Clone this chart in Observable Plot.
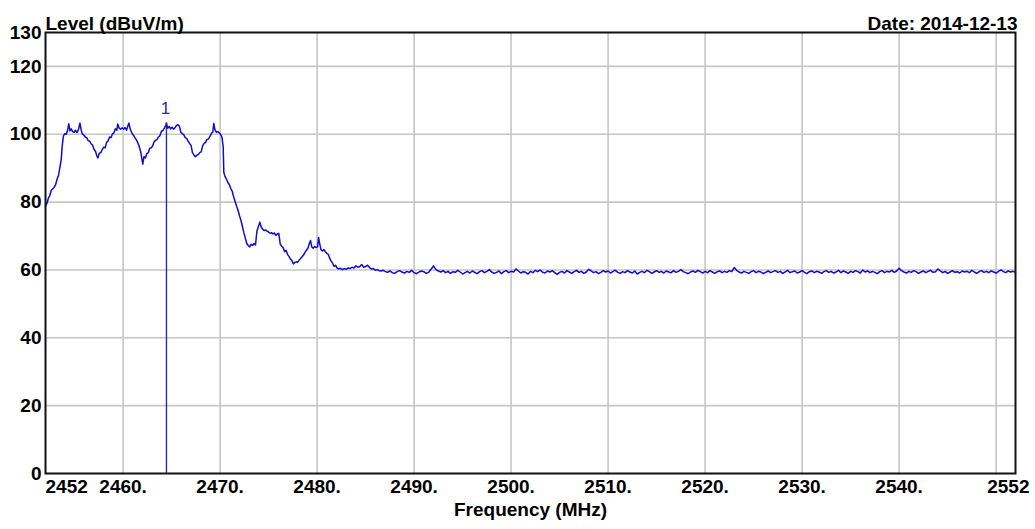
<!DOCTYPE html>
<html>
<head>
<meta charset="utf-8">
<script src="https://cdn.jsdelivr.net/npm/d3@7"></script>
<script src="https://cdn.jsdelivr.net/npm/@observablehq/plot@0.6"></script>
<style>
  html, body { margin: 0; padding: 0; background: #fff; }
  #chart svg { display: block; }
</style>
</head>
<body>
<div id="chart"></div>
<script>
// ---- Data ----
// Signal region: frequency (MHz)
const bandFreq = [
  2452.00, 2452.15, 2452.30, 2452.45, 2452.60, 2452.75, 2452.90, 2453.05, 2453.20, 2453.35,
  2453.50, 2453.62, 2453.72, 2453.85, 2454.00, 2454.15, 2454.30, 2454.40, 2454.52, 2454.65,
  2454.80, 2454.95, 2455.10, 2455.25, 2455.40, 2455.55, 2455.70, 2455.80, 2455.95, 2456.10,
  2456.25, 2456.40, 2456.55, 2456.70, 2456.85, 2457.00, 2457.15, 2457.30, 2457.40, 2457.55,
  2457.70, 2457.85, 2458.00, 2458.15, 2458.30, 2458.45, 2458.60, 2458.75, 2458.90, 2459.05,
  2459.20, 2459.35, 2459.45, 2459.60, 2459.75, 2459.90, 2460.05, 2460.20, 2460.35, 2460.50,
  2460.60, 2460.75, 2460.90, 2461.05, 2461.20, 2461.35, 2461.50, 2461.65, 2461.80, 2461.95,
  2462.03, 2462.15, 2462.30, 2462.45, 2462.60, 2462.75, 2462.90, 2463.05, 2463.20, 2463.35,
  2463.50, 2463.65, 2463.80, 2463.95, 2464.10, 2464.25, 2464.40, 2464.47, 2464.60, 2464.75,
  2464.90, 2465.05, 2465.20, 2465.35, 2465.50, 2465.65, 2465.80, 2465.95, 2466.10, 2466.25,
  2466.40, 2466.55, 2466.70, 2466.85, 2467.00, 2467.15, 2467.30, 2467.45, 2467.60, 2467.75,
  2467.90, 2468.05, 2468.20, 2468.35, 2468.50, 2468.65, 2468.80, 2468.95, 2469.10, 2469.25,
  2469.35, 2469.45, 2469.60, 2469.75, 2469.90, 2470.05, 2470.20, 2470.32, 2470.38, 2470.50,
  2470.65, 2470.80, 2470.95, 2471.10, 2471.25, 2471.40, 2471.55, 2471.70, 2471.85, 2472.00,
  2472.15, 2472.30, 2472.45, 2472.60, 2472.75, 2472.90, 2473.05, 2473.20, 2473.35, 2473.50,
  2473.65, 2473.80, 2473.95, 2474.10, 2474.25, 2474.40, 2474.55, 2474.70, 2474.85, 2475.00,
  2475.15, 2475.30, 2475.45, 2475.60, 2475.75, 2475.90, 2476.05, 2476.20, 2476.35, 2476.50,
  2476.65, 2476.80, 2476.95, 2477.10, 2477.25, 2477.40, 2477.55, 2477.70, 2477.85, 2478.00,
  2478.15, 2478.30, 2478.45, 2478.60, 2478.75, 2478.90, 2479.05, 2479.20, 2479.32, 2479.45,
  2479.60, 2479.75, 2479.90, 2480.05, 2480.15, 2480.25, 2480.40, 2480.55, 2480.70, 2480.85,
  2481.00, 2481.15, 2481.30, 2481.45, 2481.60, 2481.75, 2481.90, 2482.05, 2482.20, 2482.40,
  2482.60, 2482.80, 2483.00, 2483.20, 2483.40, 2483.60, 2483.80, 2484.00, 2484.20, 2484.40,
  2484.60, 2484.80, 2485.00, 2485.20, 2485.40, 2485.60, 2485.80, 2486.00, 2486.20, 2486.40,
  2486.60, 2486.80
];
// Signal region: level (dBuV/m)
const bandLevel = [
  78.8, 79.6, 81.2, 82.0, 83.5, 83.9, 84.4, 85.2, 86.8, 88.0,
  90.5, 92.5, 96.5, 99.5, 100.2, 100.0, 101.5, 103.1, 101.0, 101.6,
  100.8, 100.6, 101.2, 100.5, 101.4, 103.3, 101.0, 100.1, 99.8, 99.2,
  99.0, 98.1, 98.0, 97.2, 96.8, 95.6, 95.0, 93.6, 93.0, 94.4,
  94.6, 95.5, 96.2, 96.0, 97.6, 98.0, 99.2, 99.0, 100.1, 100.4,
  101.6, 101.2, 103.0, 101.8, 101.5, 101.9, 101.5, 102.0, 101.2, 102.5,
  103.3, 101.4, 100.4, 99.8, 99.1, 98.4, 97.6, 96.5, 95.0, 92.5,
  91.2, 93.4, 93.0, 94.3, 94.6, 95.9, 96.0, 96.6, 97.8, 98.2,
  98.5, 99.2, 99.6, 100.9, 101.1, 101.8, 102.6, 103.3, 101.8, 102.3,
  101.6, 102.1, 101.5, 101.9, 102.6, 102.8, 102.4, 100.6, 100.2, 99.9,
  99.0, 98.8, 98.0, 97.3, 96.8, 94.6, 93.9, 93.4, 93.8, 94.0,
  94.6, 94.8, 96.6, 97.3, 97.6, 98.5, 98.6, 99.4, 100.2, 100.7,
  103.2, 101.5, 100.6, 100.8, 100.4, 100.0, 99.0, 96.2, 88.8, 87.6,
  86.8, 85.8, 85.2, 84.0, 83.2, 81.5, 80.2, 78.8, 77.6, 76.0,
  74.6, 72.8, 71.0, 69.4, 67.8, 67.2, 66.8, 67.6, 67.2, 67.8,
  67.4, 71.5, 72.8, 74.1, 72.6, 72.0, 71.6, 71.8, 71.4, 71.2,
  70.8, 71.0, 70.6, 70.9, 70.2, 70.6, 70.8, 67.6, 67.0, 66.6,
  65.4, 65.8, 64.6, 64.0, 63.2, 62.8, 61.8, 62.2, 62.4, 62.3,
  62.9, 63.4, 63.9, 64.4, 65.2, 65.8, 66.4, 67.8, 68.7, 66.8,
  66.4, 66.9, 66.6, 66.8, 69.6, 68.0, 66.0, 65.6, 66.0, 65.4,
  64.9, 64.6, 63.4, 62.6, 62.0, 61.0, 61.4, 60.6, 60.3, 60.5,
  60.1, 60.4, 60.2, 60.6, 60.4, 60.8, 60.6, 61.2, 60.8, 61.0,
  61.6, 60.8, 61.0, 61.4, 60.7, 60.3, 60.4, 59.9, 60.1, 59.8,
  59.7, 59.9
];
// Noise floor from 2487 MHz to 2552 MHz, one reading every 0.25 MHz
const floorStart = 2487;
const floorStep = 0.25;
const floorLevel = [
  59.6, 59.3, 59.7, 59.2, 59.0, 59.5, 59.8, 59.4, 59.1, 59.6, 59.3, 59.9, 59.2, 58.9, 59.4, 59.7, 59.5, 59.0, 59.3, 60.2,
  61.2, 60.1, 59.7, 59.4, 59.8, 59.2, 59.6, 59.0, 59.5, 59.3, 59.9, 59.4, 58.8, 59.2, 59.6, 59.1, 59.7, 59.3, 58.9, 59.5,
  59.8, 59.2, 59.6, 60.1, 59.4, 59.0, 59.3, 59.7, 58.9, 59.5, 59.8, 59.2, 59.6, 59.4, 60.3, 59.7, 59.1, 59.5, 59.3, 58.8,
  59.6, 59.2, 59.9, 59.5, 60.0, 59.3, 59.1, 59.7, 59.4, 59.8, 59.2, 58.7, 59.3, 59.6, 59.1, 59.8, 59.4, 59.0, 59.5, 59.9,
  59.3, 59.6, 59.0, 59.4, 60.2, 59.7, 59.2, 59.5, 58.9, 59.3, 59.8, 59.4, 59.7, 59.1, 59.6, 59.9, 59.3, 59.0, 59.5, 59.2,
  59.8, 59.4, 59.1, 59.7, 58.8, 59.3, 59.6, 59.2, 59.9, 59.5, 59.0, 59.4, 59.8, 59.3, 59.6, 59.1, 59.7, 59.4, 59.2, 59.8,
  59.3, 59.6, 60.1, 59.5, 59.2, 58.9, 59.4, 59.7, 59.3, 59.9, 59.5, 59.1, 59.6, 59.2, 59.8, 59.4, 59.0, 59.5, 59.7, 59.2,
  59.6, 59.3, 59.8, 59.5, 60.7, 59.9, 59.4, 59.1, 59.6, 59.3, 59.0, 59.5, 59.8, 59.2, 59.6, 59.4, 58.9, 59.3, 59.7, 59.2,
  59.5, 59.8, 59.3, 59.6, 59.0, 59.4, 59.9, 59.2, 59.5, 59.7, 59.1, 59.4, 59.8, 59.3, 58.9, 59.5, 59.7, 59.2, 59.6, 59.4,
  59.0, 59.5, 59.8, 59.3, 59.6, 59.1, 59.4, 59.9, 59.2, 59.7, 59.4, 59.0, 59.6, 59.3, 59.8, 59.5, 59.1, 60.0, 59.4, 59.7,
  59.2, 59.6, 59.3, 58.9, 59.5, 59.8, 59.2, 59.6, 59.4, 59.9, 59.3, 59.7, 60.5, 59.8, 59.4, 59.1, 59.6, 59.3, 59.8, 59.5,
  59.0, 59.4, 59.7, 59.2, 59.6, 59.9, 59.3, 59.5, 60.3, 59.7, 59.2, 59.6, 59.0, 59.4, 59.8, 59.3, 59.5, 59.1, 59.7, 59.4,
  59.6, 59.2, 59.9, 59.4, 59.0, 59.5, 59.8, 59.3, 59.6, 59.2, 59.7, 59.4, 59.1, 59.6, 60.0, 59.5, 59.2, 59.7, 59.4, 59.6,
  59.3
];
// Marker 1
const markerName = ["1"];
const markerFreq = [2464.47];
const markerLevel = [103.3];
// Axis ticks
const xGridTicks = [2460, 2470, 2480, 2490, 2500, 2510, 2520, 2530, 2540, 2550];
const xMidTicks = [2460, 2470, 2480, 2490, 2500, 2510, 2520, 2530, 2540];
const xFirstTick = [2452];
const xLastTick = [2552];
const yTicks = [0, 20, 40, 60, 80, 100, 120, 130];
const yGridTicks = [20, 40, 60, 80, 100, 120];
const xDomain = [2452, 2552];
const yDomain = [0, 130];
const titleY = "Level (dBuV/m)";
const titleDate = "Date: 2014-12-13";
const titleX = "Frequency (MHz)";

// ---- Build tables ----
const trace = bandFreq.map((f, i) => ({f, level: bandLevel[i]}))
  .concat(floorLevel.map((v, i) => ({f: floorStart + i * floorStep, level: v})));
const markers = markerName.map((n, i) => ({name: n, f: markerFreq[i], level: markerLevel[i]}));

const traceColor = "#0e0ed0";
const font = "'Liberation Sans', Arial, sans-serif";
const fs = 19;

const chart = Plot.plot({
  width: 1035,
  height: 529,
  marginTop: 32,
  marginBottom: 56,
  marginLeft: 45,
  marginRight: 20,
  x: {domain: xDomain, label: null},
  y: {domain: yDomain, label: null},
  style: {fontFamily: font, fontSize: fs + "px", fontWeight: "bold", color: "#000", background: "#fff"},
  marks: [
    Plot.gridX(xGridTicks, {stroke: "#c6c6c6", strokeOpacity: 1, strokeWidth: 1.6}),
    Plot.gridY(yGridTicks, {stroke: "#c6c6c6", strokeOpacity: 1, strokeWidth: 1.6}),
    Plot.line(trace, {x: "f", y: "level", stroke: traceColor, strokeWidth: 1.5}),
    Plot.ruleX(markers, {x: "f", y1: 0, y2: "level", stroke: "#2a2ab0", strokeWidth: 1.4}),
    Plot.text(markers, {x: "f", y: "level", text: "name", dy: -15, dx: -1, fill: "#2a2ab0", fontWeight: "normal", fontSize: 17}),
    Plot.frame({stroke: "#111", strokeWidth: 2}),
    Plot.axisY(yTicks, {tickSize: 0, tickPadding: 4, fill: "#000", fontSize: fs, fontWeight: "bold", label: null}),
    Plot.axisX(xMidTicks, {tickSize: 0, tickPadding: 6, tickFormat: d => d + ".", fill: "#000", fontSize: fs, fontWeight: "bold", label: null}),
    Plot.axisX(xFirstTick, {tickSize: 0, tickPadding: 6, textAnchor: "start", tickFormat: d => String(d), fill: "#000", fontSize: fs, fontWeight: "bold", label: null}),
    Plot.axisX(xLastTick, {tickSize: 0, tickPadding: 6, textAnchor: "end", dx: 14, tickFormat: d => String(d), fill: "#000", fontSize: fs, fontWeight: "bold", label: null}),
    Plot.text([titleY], {text: d => d, frameAnchor: "top-left", textAnchor: "start", dy: -16, fontSize: fs, fontWeight: "bold", fill: "#000"}),
    Plot.text([titleDate], {text: d => d, frameAnchor: "top-right", textAnchor: "end", dx: 2, dy: -16, fontSize: fs, fontWeight: "bold", fill: "#000"}),
    Plot.text([titleX], {text: d => d, frameAnchor: "bottom", dy: 42, dx: 0, fontSize: fs, fontWeight: "bold", fill: "#000"})
  ]
});
document.getElementById("chart").appendChild(chart);
</script>
</body>
</html>
